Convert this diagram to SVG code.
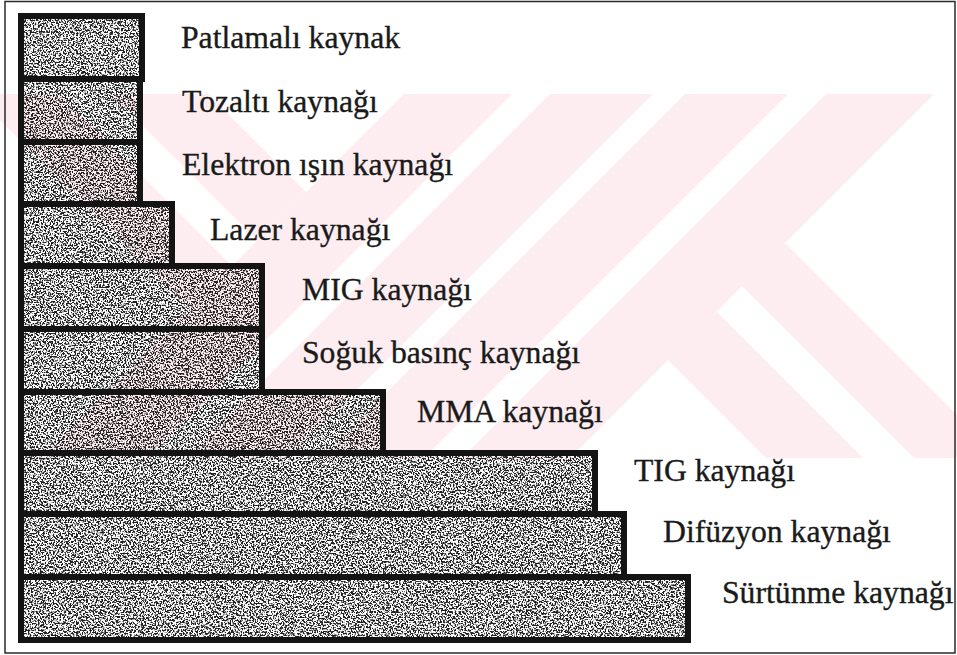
<svg xmlns="http://www.w3.org/2000/svg" width="957" height="655" viewBox="0 0 957 655">
  <defs>
    <style>
      .wm { fill: #fdedf0; }
      .tex { fill: #888; }
      .bar { fill: none; stroke: #141414; stroke-width: 6; stroke-linejoin: miter; }
      .lbl { font-family: "Liberation Serif", "Times New Roman", serif; font-size: 31.7px; fill: #1a1a1a; stroke: #1a1a1a; stroke-width: 0.35; }
      .frame { fill: none; stroke: #2a2a2a; stroke-width: 1.5; }
    </style>
    <filter id="stip" x="0" y="0" width="1" height="1" color-interpolation-filters="sRGB">
      <feTurbulence type="fractalNoise" baseFrequency="0.6" numOctaves="3" seed="7" result="n"/>
      <feColorMatrix in="n" type="matrix" values="0 0 0 0 0.13  0 0 0 0 0.13  0 0 0 0 0.13  -9 0 0 0 4.85"/>
    </filter>
    <clipPath id="wmclip">
      <rect x="0" y="94" width="957" height="364"/>
    </clipPath>
  </defs>

  <rect x="0" y="0" width="957" height="655" fill="#ffffff"/>

  <g id="watermark" clip-path="url(#wmclip)">
    <polygon class="wm" points="404,94 512,94 148,458 40,458"/>
    <polygon class="wm" points="550,94 653,94 289,458 186,458"/>
    <polygon class="wm" points="685,94 788,94 424,458 321,458"/>
    <polygon class="wm" points="826,94 934,94 570,458 462,458"/>
    <polygon class="wm" points="668,360 716.5,311.5 863,458 766,458"/>
    <polygon class="wm" points="742,286 785,243 1000,458 914,458"/>
    <polygon class="wm" points="111,94 208,94 306,192 257.5,240.5"/>
    <polygon class="wm" points="-26,94 60,94 232,266 189,309"/>
  </g>

  <rect class="frame" x="5" y="1.5" width="950" height="651.5"/>

  <g id="bars">
    <g id="patlamali">
      <rect class="tex" filter="url(#stip)" x="21" y="16" width="121" height="63"/>
      <rect class="bar" x="21" y="16" width="121" height="63"/>
      <text class="lbl" x="181" y="48">Patlamalı kaynak</text>
    </g>
    <g id="tozalti">
      <rect class="tex" filter="url(#stip)" x="21" y="79" width="119" height="63"/>
      <rect class="bar" x="21" y="79" width="119" height="63"/>
      <text class="lbl" x="182" y="112">Tozaltı kaynağı</text>
    </g>
    <g id="elektron">
      <rect class="tex" filter="url(#stip)" x="21" y="142" width="119" height="62"/>
      <rect class="bar" x="21" y="142" width="119" height="62"/>
      <text class="lbl" x="182" y="175">Elektron ışın kaynağı</text>
    </g>
    <g id="lazer">
      <rect class="tex" filter="url(#stip)" x="21" y="204" width="151" height="62"/>
      <rect class="bar" x="21" y="204" width="151" height="62"/>
      <text class="lbl" x="210" y="240">Lazer kaynağı</text>
    </g>
    <g id="mig">
      <rect class="tex" filter="url(#stip)" x="21" y="266" width="241" height="63"/>
      <rect class="bar" x="21" y="266" width="241" height="63"/>
      <text class="lbl" x="302" y="300">MIG kaynağı</text>
    </g>
    <g id="soguk">
      <rect class="tex" filter="url(#stip)" x="21" y="329" width="241" height="63"/>
      <rect class="bar" x="21" y="329" width="241" height="63"/>
      <text class="lbl" x="302" y="363">Soğuk basınç kaynağı</text>
    </g>
    <g id="mma">
      <rect class="tex" filter="url(#stip)" x="21" y="392" width="362" height="61"/>
      <rect class="bar" x="21" y="392" width="362" height="61"/>
      <text class="lbl" x="417" y="422">MMA kaynağı</text>
    </g>
    <g id="tig">
      <rect class="tex" filter="url(#stip)" x="21" y="453" width="574" height="61"/>
      <rect class="bar" x="21" y="453" width="574" height="61"/>
      <text class="lbl" x="634" y="481">TIG kaynağı</text>
    </g>
    <g id="difuzyon">
      <rect class="tex" filter="url(#stip)" x="21" y="514" width="603" height="63"/>
      <rect class="bar" x="21" y="514" width="603" height="63"/>
      <text class="lbl" x="663" y="542">Difüzyon kaynağı</text>
    </g>
    <g id="surtunme">
      <rect class="tex" filter="url(#stip)" x="21" y="577" width="667" height="63"/>
      <rect class="bar" x="21" y="577" width="667" height="63"/>
      <text class="lbl" x="722" y="603">Sürtünme kaynağı</text>
    </g>
  </g>

  <g id="connectors"></g>
</svg>
